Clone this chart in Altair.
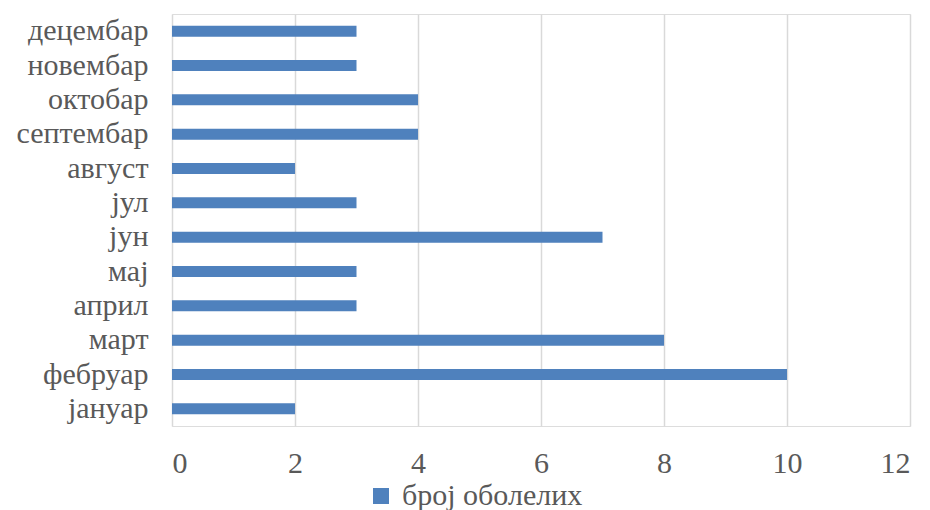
import altair as alt
import pandas as pd

months = ["јануар", "фебруар", "март", "април", "мај", "јун",
          "јул", "август", "септембар", "октобар", "новембар", "децембар"]
cases = [2, 10, 8, 3, 3, 7, 3, 2, 4, 4, 3, 3]
series_name = "број оболелих"

df = pd.DataFrame({"month": months, "cases": cases, "series": series_name})

FONT = "Liberation Serif"
GRID = "#d9d9d9"
TEXT = "#595959"
FS = 30

chart = alt.Chart(df).mark_bar(color="#4f81bd").encode(
    x=alt.X("cases:Q",
            scale=alt.Scale(domain=[0, 12], nice=False),
            axis=alt.Axis(values=[0, 2, 4, 6, 8, 10, 12], title=None,
                          grid=True, gridColor=GRID, gridWidth=1.5,
                          domain=False, ticks=False,
                          labelFont=FONT, labelFontSize=FS, labelColor=TEXT,
                          labelPadding=22)),
    y=alt.Y("month:N", sort=months[::-1],
            scale=alt.Scale(paddingInner=0.68, paddingOuter=0.34),
            axis=alt.Axis(title=None, domain=False, ticks=False, grid=False,
                          labelFont=FONT, labelFontSize=FS, labelColor=TEXT,
                          labelPadding=24)),
    color=alt.Color("series:N",
                    scale=alt.Scale(domain=[series_name], range=["#4f81bd"]),
                    legend=alt.Legend(title=None, orient="none",
                                      legendX=194, legendY=467,
                                      symbolType="square", symbolSize=256,
                                      symbolStrokeWidth=0,
                                      labelFont=FONT, labelFontSize=FS,
                                      labelColor=TEXT, labelOffset=6,
                                      labelLimit=0)),
).properties(
    width=738,
    height=412,
    autosize=alt.AutoSizeParams(type="none"),
    padding={"left": 172, "top": 14, "right": 20, "bottom": 84},
).configure_view(
    stroke=GRID, strokeWidth=1.5
).configure(background="white")

chart.save("out.html", embed_options={"renderer": "svg", "actions": False})
